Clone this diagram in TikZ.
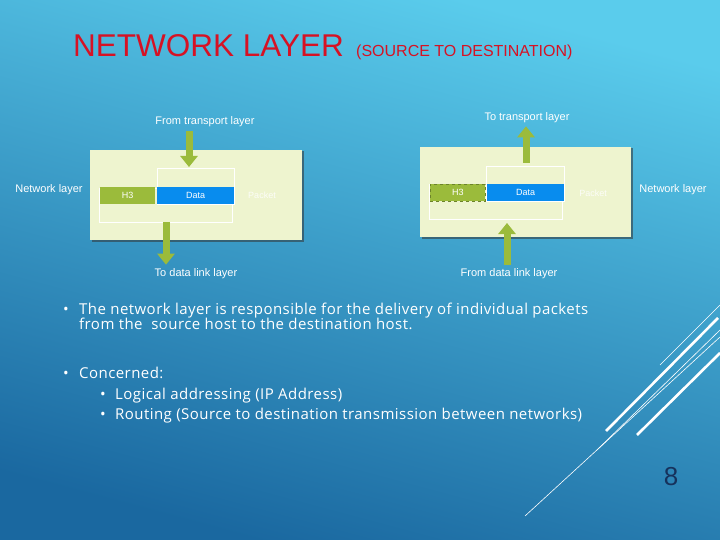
\documentclass[tikz,border=0pt]{standalone}
\usepackage{fontspec}
\setmainfont{Liberation Sans}
\newfontfamily\bodyfont[LetterSpace=3]{Open Sans}
\usetikzlibrary{positioning,arrows.meta,shadows}
\definecolor{bgtop}{RGB}{90,204,236}
\definecolor{bgbot}{RGB}{26,104,160}
\definecolor{boxfill}{RGB}{238,244,207}
\definecolor{hgreen}{RGB}{155,187,59}
\definecolor{datablue}{RGB}{8,140,238}
\definecolor{titlered}{RGB}{214,18,36}
\definecolor{pagenum}{RGB}{22,50,92}
\tikzset{
  layerbox/.style={fill=boxfill, minimum width=#1, minimum height=90pt, anchor=north west,
    drop shadow={shadow xshift=1.3pt, shadow yshift=-1.3pt, opacity=.55, fill=black!80}},
  hbar/.style={fill=hgreen, minimum width=55pt, minimum height=17pt, anchor=north west,
    text=white, font=\fontsize{9}{9}\selectfont},
  databar/.style={fill=datablue, minimum width=77pt, minimum height=17pt, anchor=north west,
    text=white, font=\fontsize{9}{9}\selectfont},
  outline/.style={draw=white, line width=0.7pt},
  lbl/.style={text=white, font=\fontsize{11}{11}\selectfont},
  pkt/.style={text=white!85!boxfill, font=\fontsize{9}{9}\selectfont},
  blockarrow/.style={draw=hgreen, line width=7pt, -{Triangle[width=17pt,length=11pt]}},
  bodytxt/.style={text=white, anchor=base west, font=\bodyfont\fontsize{15}{15}\selectfont},
  deco/.style={draw=white, line width=#1}
}
\begin{document}
\begin{tikzpicture}[x=1pt,y=-1pt, every node/.style={inner sep=0pt}]
  \shade[top color=bgtop, bottom color=bgbot, shading angle=-15] (0,0) rectangle (720,540);
  \useasboundingbox (0,0) rectangle (720,540);

  % title
  \node[anchor=base west, text=titlered, font=\fontsize{31.5}{31.5}\selectfont] (title) at (73,57) {NETWORK LAYER};
  \node[anchor=base west, text=titlered, font=\fontsize{16}{16}\selectfont] (subtitle) at (356,57) {(SOURCE TO DESTINATION)};

  % source side
  \node[layerbox=212pt] (boxL) at (90,150) {};
  \draw[outline] (157,168) rectangle (234,204);
  \draw[outline] (99,188) rectangle (232,222);
  \node[hbar] (hL) at (100,187) {H3};
  \node[databar] (dL) at (157,187) {Data};
  \node[pkt] (pL) at (262,195) {Packet};
  \node[lbl] (netL) at (49,190) {Network layer};
  \node[lbl] (ftl) at (205,122) {From transport layer};
  \node[lbl] (tdl) at (196,274) {To data link layer};
  \coordinate (inL) at (189,167);
  \coordinate (outL) at (166,222);
  \draw[blockarrow] (ftl.south -| inL) ++(0,4) -- (inL);
  \draw[blockarrow, shorten >=4pt] (outL) -- (tdl.north -| outL);

  % destination side
  \node[layerbox=211pt] (boxR) at (420,147) {};
  \draw[outline] (486,166) rectangle (564,201);
  \draw[outline] (429,184) rectangle (562,219);
  \node[hbar, draw=hgreen!70!black, dashed, line width=0.6pt] (hR) at (430,184) {H3};
  \node[databar] (dR) at (487,184) {Data};
  \node[pkt] (pR) at (593,193) {Packet};
  \node[lbl] (netR) at (673,190) {Network layer};
  \node[lbl] (ttl) at (527,118) {To transport layer};
  \node[lbl] (fdl) at (509,274) {From data link layer};
  \coordinate (inR) at (507,223);
  \coordinate (outR) at (526,163);
  \draw[blockarrow, shorten >=3pt] (outR) -- (ttl.south -| outR);
  \draw[blockarrow] (fdl.north -| inR) ++(0,-4) -- (inR);

  % bullets
  \node[bodytxt] (b1) at (79,314) {The network layer is responsible for the delivery of individual packets};
  \node[bodytxt] (b1b) at (79,329) {from the \ source host to the destination host.};
  \node[bodytxt] (b2) at (79,378) {Concerned:};
  \node[bodytxt] (b2a) at (115,399) {Logical addressing (IP Address)};
  \node[bodytxt] (b2b) at (115,419) {Routing (Source to destination transmission between networks)};
  \foreach \b in {b1,b2} \node[bodytxt, anchor=base east] at ([xshift=-10pt]\b.base west) {•};
  \foreach \b in {b2a,b2b} \node[bodytxt, anchor=base east] at ([xshift=-9pt]\b.base west) {•};

  % decoration
  \draw[deco=0.6pt] (525,516) -- (720,337);
  \draw[deco=0.6pt] (597,450) -- (720,330);
  \draw[deco=0.6pt] (660,365) -- (720,305);
  \draw[deco=2.6pt] (606,431) -- (718,318);
  \draw[deco=2.6pt] (637,435) -- (720,353);
  \node[text=pagenum, font=\fontsize{26}{26}\selectfont] (page) at (671,477) {8};
\end{tikzpicture}
\end{document}
